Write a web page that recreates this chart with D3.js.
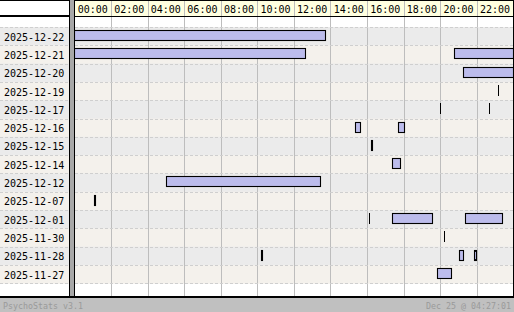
<!DOCTYPE html>
<html><head><meta charset="utf-8">
<script src="https://cdn.jsdelivr.net/npm/d3@7"></script>
<style>
html,body{margin:0;padding:0;background:#fff;}
svg{display:block;}
text{font-family:"DejaVu Sans Mono",monospace;}
</style></head>
<body>
<svg id="chart" width="514" height="312"></svg>
<script>
// ---- data ----
const dates = ["2025-12-22","2025-12-21","2025-12-20","2025-12-19","2025-12-17","2025-12-16","2025-12-15","2025-12-14","2025-12-12","2025-12-07","2025-12-01","2025-11-30","2025-11-28","2025-11-27"];
const sessionStarts = [
  ["00:00"],
  ["00:00","20:47"],
  ["21:16"],
  ["23:11"],
  ["19:58","22:41"],
  ["15:19","17:43"],
  ["16:14"],
  ["17:23"],
  ["04:59"],
  ["01:03"],
  ["16:08","17:23","21:23"],
  ["20:14"],
  ["10:13","21:03","21:52"],
  ["19:51"]
];
const sessionEnds = [
  ["13:43"],
  ["12:38","24:00"],
  ["24:00"],
  ["23:11"],
  ["19:58","22:41"],
  ["15:38","18:02"],
  ["16:18"],
  ["17:49"],
  ["13:27"],
  ["01:07"],
  ["16:08","19:32","23:24"],
  ["20:14"],
  ["10:17","21:14","21:59"],
  ["20:37"]
];
const hourTicks = [0,2,4,6,8,10,12,14,16,18,20,22];
const hourLabels = ["00:00","02:00","04:00","06:00","08:00","10:00","12:00","14:00","16:00","18:00","20:00","22:00"];
const footerLeft = "PsychoStats v3.1";
const footerRight = "Dec 25 @ 04:27:01";

// ---- layout ----
const W = 514, H = 312;
const headerH = 16, rowsTop = 27, rowsBottom = 283.3, plotBottom = 296;
const labelW = 69, plotLeft = 74.4, plotRight = 513.3;
const rowColors = ["#ebebeb", "#f4f1ec"];

const toH = s => { const [h,m] = s.split(":").map(Number); return h + m/60; };

const svg = d3.select("#chart");
const x = d3.scaleLinear().domain([0,24]).range([plotLeft, plotRight]);
const y = d3.scaleBand().domain(dates).range([rowsTop, rowsBottom]).padding(0);

// background
svg.append("rect").attr("x",0).attr("y",0).attr("width",W).attr("height",H).attr("fill","#fff");

// row backgrounds (full width)
svg.append("g").selectAll("rect").data(dates).join("rect")
  .attr("x",0).attr("y",d=>y(d)).attr("width",W).attr("height",y.bandwidth()+0.5)
  .attr("fill",(d,i)=>rowColors[i%2]);

// header yellow
svg.append("rect").attr("x",plotLeft).attr("y",0).attr("width",W-plotLeft).attr("height",headerH).attr("fill","#ffffe0");

// vertical gridlines
svg.append("g").selectAll("line").data(hourTicks.slice(1)).join("line")
  .attr("x1",d=>Math.round(x(d))+0.5).attr("x2",d=>Math.round(x(d))+0.5)
  .attr("y1",0).attr("y2",plotBottom)
  .attr("stroke","#bdbdbd").attr("stroke-width",1);

// dashed row separators
const seps = dates.map(d=>y(d)).concat([rowsBottom]);
svg.append("g").selectAll("line").data(seps).join("line")
  .attr("x1",0).attr("x2",W)
  .attr("y1",d=>Math.round(d)+0.5).attr("y2",d=>Math.round(d)+0.5)
  .attr("stroke","#cfcfcf").attr("stroke-dasharray","3,2");

// header labels
svg.append("g").selectAll("text").data(hourTicks).join("text")
  .attr("x",d=>x(d+1)).attr("y",12.5).attr("text-anchor","middle")
  .attr("font-size","10px").attr("fill","#000")
  .text((d,i)=>hourLabels[i]);

// header borders
svg.append("rect").attr("x",0).attr("y",0).attr("width",W).attr("height",1).attr("fill","#000");
svg.append("rect").attr("x",plotLeft).attr("y",16).attr("width",W-plotLeft).attr("height",1).attr("fill","#000");
svg.append("rect").attr("x",0).attr("y",15).attr("width",labelW+1).attr("height",2).attr("fill","#000");

// sessions
const sessions = [];
dates.forEach((d,i)=>{
  sessionStarts[i].forEach((s,j)=>sessions.push({date:d, s:toH(s), e:toH(sessionEnds[i][j])}));
});
const barG = svg.append("g");
sessions.forEach(o=>{
  const top = Math.floor(y(o.date)+3.5)+0.5;
  const x0 = Math.round(x(o.s)), x1 = Math.round(x(o.e));
  if (x1 - x0 < 1) {
    barG.append("line").attr("x1",x0+0.5).attr("x2",x0+0.5)
      .attr("y1",top-0.5).attr("y2",top+10.5).attr("stroke","#000").attr("stroke-width",1);
  } else {
    barG.append("rect").attr("x",x0+0.5).attr("y",top).attr("width",x1-x0).attr("height",10)
      .attr("fill","#bcbcec").attr("stroke","#000").attr("stroke-width",1.1);
  }
});

// label column
svg.append("g").selectAll("text").data(dates).join("text")
  .attr("x",4).attr("y",d=>y(d)+y.bandwidth()/2+4.5)
  .attr("font-size","10px").attr("fill","#000").text(d=>d);

// separators between label column and plot
svg.append("rect").attr("x",labelW).attr("y",0).attr("width",1).attr("height",plotBottom).attr("fill","#000");
svg.append("rect").attr("x",labelW+1).attr("y",0).attr("width",4).attr("height",plotBottom).attr("fill","#a8a8a8");
svg.append("rect").attr("x",74).attr("y",0).attr("width",1).attr("height",plotBottom).attr("fill","#000");
// right border
svg.append("rect").attr("x",W-1).attr("y",0).attr("width",1).attr("height",plotBottom).attr("fill","#000");

// bottom border + footer
svg.append("rect").attr("x",0).attr("y",plotBottom).attr("width",W).attr("height",2).attr("fill","#000");
svg.append("rect").attr("x",0).attr("y",plotBottom+2).attr("width",W).attr("height",H-plotBottom-2).attr("fill","#c0c0c0");
svg.append("text").attr("x",3).attr("y",308.5).attr("font-size","8.3px").attr("fill","#9a9a9a").text(footerLeft);
svg.append("text").attr("x",W-3).attr("y",308.5).attr("text-anchor","end").attr("font-size","8.3px").attr("fill","#9a9a9a").text(footerRight);
</script>
</body></html>
